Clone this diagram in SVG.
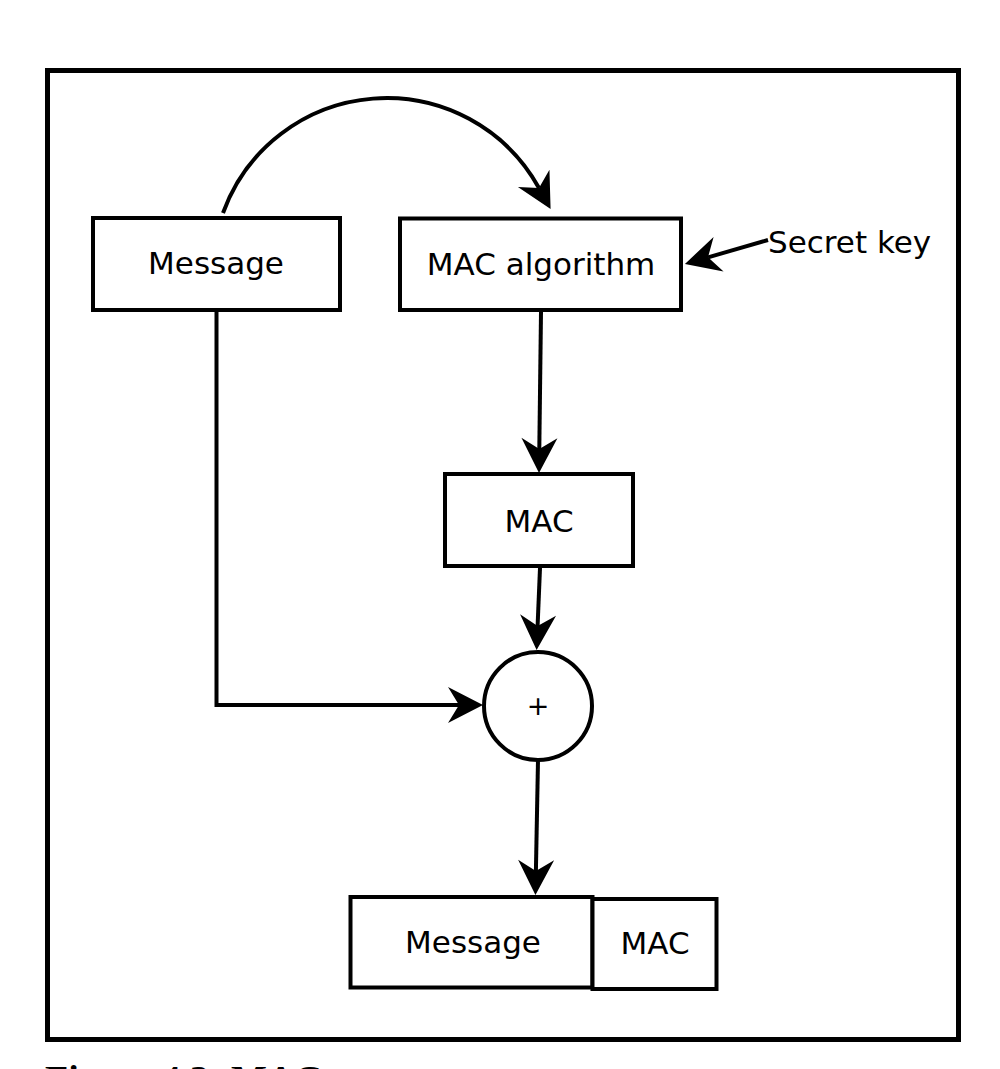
<svg xmlns="http://www.w3.org/2000/svg" width="1000" height="1069" viewBox="0 0 1000 1069">
<style>
.box{fill:#fff;stroke:#000;stroke-width:4}
.lbl{font-family:"DejaVu Sans",sans-serif;font-size:31px;fill:#000;text-anchor:middle}
.con{fill:none;stroke:#000;stroke-width:4;marker-end:url(#ah)}
</style>
<defs>
<marker id="ah" markerUnits="userSpaceOnUse" viewBox="-12 -19 37 38" markerWidth="37" markerHeight="38" refX="0" refY="0" orient="auto" overflow="visible">
<path d="M24,0 L-11,-18 L0,0 L-11,18 Z" fill="#000"/>
</marker>
</defs>
<rect id="frame" x="47.5" y="70.5" width="911" height="969" fill="#fff" stroke="#000" stroke-width="5"/>
<g id="connectors">
<path class="con" d="M223,213 A174,174 0 0 1 539,188"/>
<path class="con" d="M768,240 L708,257.3"/>
<path class="con" d="M541,312 L539.3,449"/>
<path class="con" d="M540,568 L537.6,626"/>
<path class="con" d="M216.5,310 V705 H459"/>
<path class="con" d="M538,760 L535.9,871"/>
</g>
<g id="message">
<rect class="box" x="93" y="218" width="247" height="92"/>
<text class="lbl" x="216" y="274">Message</text>
</g>
<g id="mac-algorithm">
<rect class="box" x="400" y="218.5" width="281" height="91.5"/>
<text class="lbl" x="541" y="275">MAC algorithm</text>
</g>
<g id="secret-key">
<text class="lbl" x="768" y="253" style="text-anchor:start">Secret key</text>
</g>
<g id="mac">
<rect class="box" x="445" y="474" width="188" height="92"/>
<text class="lbl" x="539" y="532">MAC</text>
</g>
<g id="combine">
<circle class="box" cx="538" cy="706" r="54"/>
<text class="lbl" x="538" y="715" style="font-size:27px">+</text>
</g>
<g id="output-message">
<rect class="box" x="350.5" y="897" width="242" height="90.5"/>
<text class="lbl" x="473" y="953">Message</text>
</g>
<g id="output-mac">
<rect class="box" x="592.5" y="899" width="124" height="90"/>
<text class="lbl" x="655" y="954">MAC</text>
</g>
<text id="caption" x="45" y="1092" style="font-family:'Liberation Serif',serif;font-weight:bold;font-size:38px">Figure 4.3: MAC</text>
</svg>
